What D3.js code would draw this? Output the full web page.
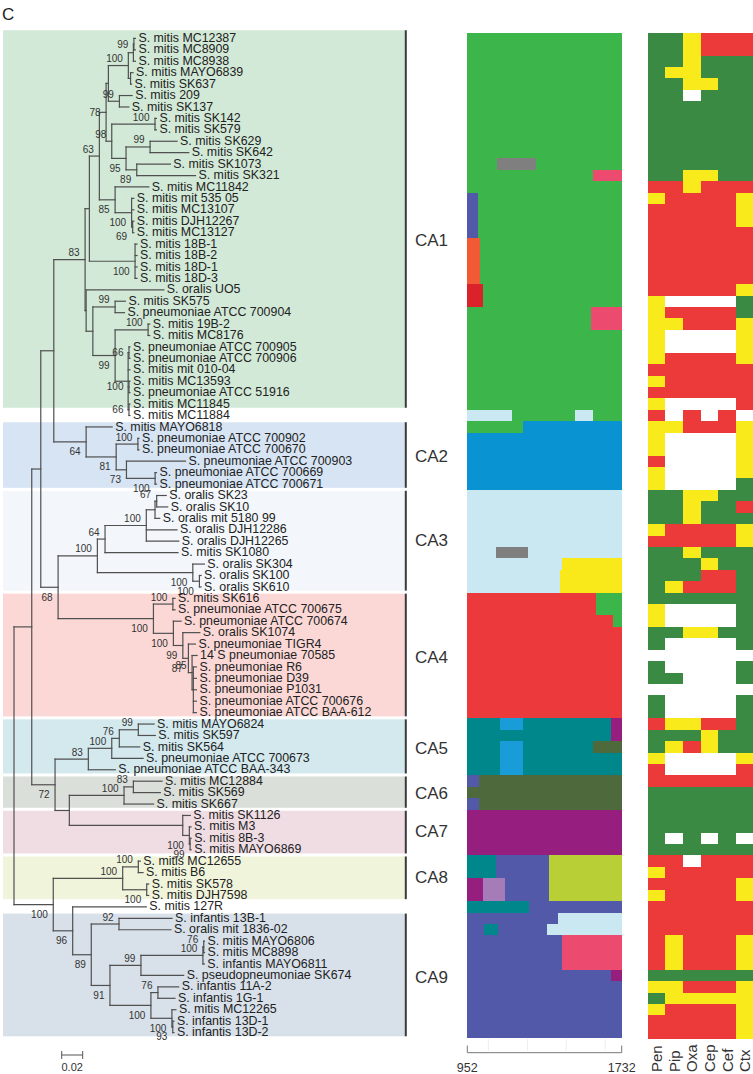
<!DOCTYPE html>
<html><head><meta charset="utf-8">
<script src="https://cdn.jsdelivr.net/npm/d3@7"></script>
<style>
body{margin:0;background:#fff}
svg{display:block;font-family:"Liberation Sans",Arial,Helvetica,sans-serif}
</style>
</head><body>
<svg id="fig" width="753" height="1074"></svg>
<script>
// ---------------- DATA ----------------
const leafNames = [
"S. mitis MC12387","S. mitis MC8909","S. mitis MC8938","S. mitis MAYO6839","S. mitis SK637","S. mitis 209","S. mitis SK137","S. mitis SK142","S. mitis SK579","S. mitis SK629","S. mitis SK642","S. mitis SK1073","S. mitis SK321","S. mitis MC11842","S. mitis mit 535 05","S. mitis MC13107","S. mitis DJH12267","S. mitis MC13127","S. mitis 18B-1","S. mitis 18B-2","S. mitis 18D-1","S. mitis 18D-3","S. oralis UO5","S. mitis SK575","S. pneumoniae ATCC 700904","S. mitis 19B-2","S. mitis MC8176","S. pneumoniae ATCC 700905","S. pneumoniae ATCC 700906","S. mitis mit 010-04","S. mitis MC13593","S. pneumoniae ATCC 51916","S. mitis MC11845","S. mitis MC11884",
"S. mitis MAYO6818","S. pneumoniae ATCC 700902","S. pneumoniae ATCC 700670","S. pneumoniae ATCC 700903","S. pneumoniae ATCC 700669","S. pneumoniae ATCC 700671",
"S. oralis SK23","S. oralis SK10","S. oralis mit 5180 99","S. oralis DJH12286","S. oralis DJH12265","S. mitis SK1080","S. oralis SK304","S. oralis SK100","S. oralis SK610",
"S. mitis SK616","S. pneumoniae ATCC 700675","S. pneumoniae ATCC 700674","S. oralis SK1074","S. pneumoniae TIGR4","14 S pneumoniae 70585","S. pneumoniae R6","S. pneumoniae D39","S. pneumoniae P1031","S. pneumoniae ATCC 700676","S. pneumoniae ATCC BAA-612",
"S. mitis MAYO6824","S. mitis SK597","S. mitis SK564","S. pneumoniae ATCC 700673","S. pneumoniae ATCC BAA-343",
"S. mitis MC12884","S. mitis SK569","S. mitis SK667",
"S. mitis SK1126","S. mitis M3","S. mitis 8B-3","S. mitis MAYO6869",
"S. mitis MC12655","S. mitis B6","S. mitis SK578","S. mitis DJH7598",
"S. mitis 127R",
"S. infantis 13B-1","S. oralis mit 1836-02","S. mitis MAYO6806","S. mitis MC8898","S. infantis MAYO6811","S. pseudopneumoniae SK674","S. infantis 11A-2","S. infantis 1G-1","S. mitis MC12265","S. infantis 13D-1","S. infantis 13D-2"];

// tree: L(leafIndex, branchLength), N(branchLength, "bootstrap"+placement, ...children)
const L = (i, len) => ({leaf: i, len});
const N = (len, sup, ...kids) => ({len, sup, kids});

const topGroup = N(0.0022, "",
  N(0.0190, "100a",
    N(0.0048, "", N(0.0005, "99m", L(0,0.0014), L(1,0.0014)), L(2,0.0019)),
    N(0.0021, "", L(3,0.0024), L(4,0.0010))),
  N(0.0105, "99a", L(5,0.0121), L(6,0.0090)));
const skGroup = N(0.0054, "98a",
  N(0.0412, "100a", L(7,0.0013), L(8,0.0013)),
  N(0.0136, "95b",
    N(0.0229, "99a", L(9,0.0257), L(10,0.0368)),
    N(0.0102, "89b", L(11,0.0320), L(12,0.0559))));
const mcGroup = N(0.0150, "85b", L(13,0.0321),
  N(0.0157, "100b", L(14,0.0021), L(15,0.0021), N(0.0010, "69b", L(16,0.0011), L(17,0.0011))));
const g18 = N(0.0435, "100b", L(18,0.0019), L(19,0.0019), L(20,0.0019), L(21,0.0019));
const pnGroup = N(0.0010, "", L(22,0.0740),
  N(0.0064, "",
    N(0.0212, "99a", L(23,0.0098), L(24,0.0089)),
    N(0.0212, "99b",
      N(0.0314, "100a", L(25,0.0016), L(26,0.0016)),
      N(0.0124, "",
        N(0.0008, "66m", L(27,0.0009), L(28,0.0009)),
        L(29,0.0017),
        N(0.0008, "100m", L(30,0.0009), L(31,0.0009)),
        N(0.0008, "66m", L(32,0.0009), L(33,0.0009))))));
const ca1 = N(0.0298, "83a",
  N(0.0041, "", N(0.0095, "63a", N(0.0064, "78m", topGroup, skGroup), mcGroup), g18),
  pnGroup);
const ca2 = N(0.0308, "64b", L(34,0.0248),
  N(0.0286, "81b",
    N(0.0207, "100a", L(35,0.0010), L(36,0.0010)),
    N(0.0098, "73b", L(37,0.0562), N(0.0273, "100b", L(38,0.0013), L(39,0.0013)))));
const ca3 = N(0.0374, "100a",
  N(0.0073, "64a",
    N(0.0393, "100a",
      N(0.0083, "", N(0.0016, "67a", L(40,0.0091), L(41,0.0105)), L(42,0.0045)),
      L(43,0.0292), L(44,0.0309)),
    L(45,0.0695)),
  N(0.0909, "100b", L(46,0.0110), N(0.0063, "100b", L(47,0.0016), L(48,0.0016))));
const ca4 = N(0.0908, "100b",
  N(0.0185, "100a", L(49,0.0021), L(50,0.0021)),
  N(0.0190, "100b", L(51,0.0073),
    N(0.0090, "99b", L(52,0.0162),
      N(0.0053, "87b", L(53,0.0067),
        N(0.0035, "85a", L(54,0.0048),
          N(0.0012, "", L(55,0.0029), L(56,0.0029), L(57,0.0029), L(58,0.0029), L(59,0.0029)))))));
const ca5 = N(0.0317, "83a",
  N(0.0223, "100a",
    N(0.0072, "76a", N(0.0181, "99a", L(60,0.0150), L(61,0.0162)), L(62,0.0194)),
    L(63,0.0298)),
  L(64,0.0257));
const ca6 = N(0.0521, "100a", N(0.0089, "83a", L(65,0.0273), L(66,0.0257)), L(67,0.0281));
const ca7 = N(0.1080, "", L(68,0.0072),
  N(0.0063, "100b", L(69,0.0016), N(0.0007, "99b", L(70,0.0010), L(71,0.0010))));
const ca8 = N(0.0661, "100a",
  N(0.0149, "100a", L(72,0.0019), L(73,0.0045)),
  N(0.0229, "100b", L(74,0.0019), L(75,0.0019)));
const ca9 = N(0.0177, "89b",
  N(0.0264, "92a", L(77,0.0505), L(78,0.0495)),
  N(0.0178, "91b",
    N(0.0295, "99a",
      N(0.0590, "100a", N(0.0008, "76a", L(79,0.0007), L(80,0.0007)), L(81,0.0014)),
      L(82,0.0407)),
    N(0.0390, "100b",
      N(0.0067, "76a", L(83,0.0197), L(84,0.0162)),
      N(0.0200, "100b", L(85,0.0038), N(0.0008, "93b", L(86,0.0011), L(87,0.0011))))));
const tree = N(0, "",
  N(0.0169, "",
    N(0.0086, "", N(0.0124, "", ca1, ca2), N(0.0165, "68b", ca3, ca4)),
    N(0.0222, "72b", ca5, N(0.0136, "", ca6, ca7))),
  N(0.0374, "100b", ca8, N(0.0185, "96b", L(76,0.0701), ca9)));

const scaleBarValue = 0.02;

// clades (rows of leaves) and the row at which each clade name is written
const cladeNames = ["CA1","CA2","CA3","CA4","CA5","CA6","CA7","CA8","CA9"];
const cladeRows  = [[0,32],[34,39],[40,48],[49,59],[60,64],[65,67],[68,71],[72,75],[77,87]];
const cladeLabelRow = [18.1, 37.0, 44.4, 54.6, 62.6, 66.5, 69.9, 73.9, 82.6];

// mosaic: gene positions 952..1732
const positionDomain = [952, 1732];
const mosaicBase = [[0,33,"CA1"],[34,39,"CA2"],[40,48,"CA3"],[49,59,"CA4"],[60,64,"CA5"],[65,67,"CA6"],[68,71,"CA7"],[72,87,"CA9"]];
const mosaicPatches = [
  [11,11,1103,1299,"grey"],[12,12,1588,1732,"pink"],[14,17,952,1005,"CA9"],[18,21,952,1016,"orange"],
  [22,23,952,1030,"darkred"],[24,25,1575,1732,"pink"],[33,33,952,1179,"CA3"],[33,33,1496,1585,"CA3"],
  [34,34,952,1232,"CA1"],[45,45,1097,1260,"grey"],[46,46,1429,1732,"yellow"],[47,48,1420,1732,"yellow"],
  [49,50,1602,1732,"CA1"],[51,51,1689,1732,"CA1"],[60,60,1117,1232,"blue2"],[62,64,1117,1232,"blue2"],
  [60,61,1676,1732,"CA7"],[62,62,1588,1732,"CA6"],[65,65,952,1013,"CA9"],[67,67,952,1013,"CA9"],
  [72,73,952,1097,"CA5"],[74,75,952,1030,"CA7"],[74,75,1030,1142,"lpurple"],[72,75,1366,1732,"CA8"],
  [76,76,952,1265,"CA5"],[77,77,1412,1732,"CA3"],[78,78,1356,1732,"CA3"],[78,78,1036,1109,"CA5"],
  [79,81,1429,1732,"pink"],[82,82,1676,1732,"CA7"]];
const minorTicks = [1058, 1256, 1452, 1649];

// antibiotic susceptibility: S susceptible, I intermediate, R resistant, - not tested
const antibiotics = ["Pen","Pip","Oxa","Cep","Cef","Ctx"];
const susceptibility = [
"SSIRRR","SSIRRR","SSISSS","SIISSS","SSIISS","SS-SSS","SSSSSS","SSSSSS","SSSSSS","SSSSSS","SSSSSS","SSSSSS",
"SSIISS","RRIRRR","IRRRRI","RRRRRI","RRRRRI","RRRRRR","RRRRRR","RRRRRR","RRRRRR","RRRRRR","RRRRRI",
"I----S","IRRRRS","IIRRRI","I----I","I----I","IRRRRI","RRRRRR","IRRRRR","RRRRRR","I----R","R-R-R-",
"IIRRRI","I----I","I----I","R----I","I----I","I----S",
"SSIISS","SSISSR","SSISSS","IRRRRI","RRRRRI","SSISSS","SSSISS","SSSRRS","SIRRRS",
"SSSSSS","I----S","I----S","SSIISS","S----S","------","S----S","SS---S","------","S----S","S----S",
"RIIRRS","SSSISS","SIRISS","I----I","R----R",
"RRRRRR","SSSSSS","SSSSSS",
"SSSSSS","SSSSSS","S-S-S-","SSSSSS",
"RR-RRR","IRRRRR","RRRRRI","IRRRRI",
"RRRRRR",
"RRRRRR","RRRRRR","RIRRRI","RIRRRI","RIRRRI","SSSSSS","IIRRRI","SIIIII","IRRRRI","RRRRRI","RRRRRI"];

// ---------------- STYLE ----------------
const bandFill = {CA1:"#d2e9d7",CA2:"#d6e4f3",CA3:"#f3f7fb",CA4:"#fbd8d6",CA5:"#d3e9ee",CA6:"#dbdfd9",CA7:"#f0dde4",CA8:"#f0f4db",CA9:"#d8e0e9"};
const mosaicColor = {CA1:"#3cb54a",CA2:"#0a93d3",CA3:"#cae8f2",CA4:"#ec393b",CA5:"#00878c",CA6:"#4e6a3c",CA7:"#951e7f",CA8:"#b8cf36",CA9:"#5159a8",
  grey:"#7f7f7f",pink:"#ec4a6f",orange:"#f15a35",darkred:"#d9222a",yellow:"#f9e81a",blue2:"#1a9cd8",lpurple:"#a57bb8"};
const suscColor = {S:"#3a8a43",I:"#f9ea1b",R:"#ec3a3b","-":"#ffffff"};

// ---------------- LAYOUT ----------------
const svg = d3.select("#fig");
svg.append("rect").attr("width",753).attr("height",1074).attr("fill","#fff");

const nRows = leafNames.length;
const rowY = d3.scaleBand().domain(d3.range(nRows)).range([32.7, 1038.3]);
const rowLin = d3.scaleLinear().domain([0, nRows]).range([32.7, 1038.3]);
const rowC = i => rowY(i) + rowY.bandwidth()/2;
const xTree = d3.scaleLinear().domain([0, 0.1]).range([14, 119]);
const xPos = d3.scaleLinear().domain(positionDomain).range([467.3, 621.7]);
const xAb = d3.scaleBand().domain(antibiotics).range([647.7, 753.7]);

// panel letter
svg.append("text").attr("x",2).attr("y",20).attr("font-size",17).attr("fill","#222").text("C");

// clade bands
const gBand = svg.append("g");
cladeNames.forEach((c, k) => {
  const [a, b] = cladeRows[k];
  const top = rowY(a) + (k === 0 ? -2.5 : 1), bot = rowY(b) + rowY.bandwidth() - 2;
  gBand.append("rect").attr("x",3).attr("y",top).attr("width",402).attr("height",bot-top).attr("fill",bandFill[c]);
  gBand.append("line").attr("x1",405.8).attr("x2",405.8).attr("y1",top).attr("y2",bot)
    .attr("stroke","#3a3a3a").attr("stroke-width",2);
  gBand.append("text").attr("x",415).attr("y",rowLin(cladeLabelRow[k])+6).attr("font-size",17).attr("fill","#333").text(c);
});

// tree layout
function lay(n, d) {
  n.d = d + n.len;
  n.px = xTree(n.d);
  if (n.kids) {
    n.kids.forEach(k => lay(k, n.d));
    n.y = (n.kids[0].y + n.kids[n.kids.length-1].y) / 2;
  } else {
    n.y = rowC(n.leaf);
  }
}
lay(tree, 0);
const gTree = svg.append("g").attr("stroke","#505050").attr("stroke-width",1.2).attr("fill","none").attr("stroke-linecap","square");
const gLab = svg.append("g");
function draw(n) {
  if (!n.kids) return;
  gTree.append("line").attr("x1",n.px).attr("x2",n.px).attr("y1",n.kids[0].y).attr("y2",n.kids[n.kids.length-1].y);
  n.kids.forEach(k => {
    gTree.append("line").attr("x1",n.px).attr("x2",k.px).attr("y1",k.y).attr("y2",k.y);
    draw(k);
  });
  if (n.sup) {
    const val = n.sup.replace(/[abm]$/, ""), pl = n.sup.slice(-1);
    const yy = pl === "a" ? n.y - 3.5 : pl === "b" ? n.y + 13.5 : n.y + 3.5;
    gLab.append("text").attr("x", n.px - 5.5).attr("y", yy).attr("text-anchor","end")
      .attr("font-size",10).attr("fill","#333").text(val);
  }
}
draw(tree);
// leaf labels
(function leaves(n){
  if (n.kids) { n.kids.forEach(leaves); return; }
  gLab.append("text").attr("x", n.px + 3).attr("y", n.y + 3.6).attr("font-size",12.4).attr("fill","#222")
    .text(leafNames[n.leaf]);
})(tree);

// scale bar
const sb0 = xTree(0) + 47.7, sb1 = sb0 + (xTree(scaleBarValue) - xTree(0));
const gSb = svg.append("g").attr("stroke","#555").attr("stroke-width",1);
gSb.append("line").attr("x1",sb0).attr("x2",sb1).attr("y1",1055).attr("y2",1055);
gSb.append("line").attr("x1",sb0).attr("x2",sb0).attr("y1",1051).attr("y2",1059);
gSb.append("line").attr("x1",sb1).attr("x2",sb1).attr("y1",1051).attr("y2",1059);
svg.append("text").attr("x",(sb0+sb1)/2).attr("y",1071).attr("text-anchor","middle").attr("font-size",11).attr("fill","#333").text(scaleBarValue);

// mosaic
const gM = svg.append("g").attr("shape-rendering","crispEdges");
mosaicBase.forEach(([a,b,c]) => {
  gM.append("rect").attr("x",xPos(positionDomain[0])).attr("width",xPos(positionDomain[1])-xPos(positionDomain[0]))
    .attr("y",rowY(a)).attr("height",rowY(b)+rowY.bandwidth()-rowY(a)).attr("fill",mosaicColor[c]);
});
mosaicPatches.forEach(([a,b,s,e,c]) => {
  gM.append("rect").attr("x",xPos(s)).attr("width",xPos(e)-xPos(s))
    .attr("y",rowY(a)).attr("height",rowY(b)+rowY.bandwidth()-rowY(a)).attr("fill",mosaicColor[c]);
});
// axis
const gAx = svg.append("g").attr("stroke","#777").attr("stroke-width",1);
minorTicks.forEach(t => gAx.append("line").attr("x1",xPos(t)).attr("x2",xPos(t)).attr("y1",1039).attr("y2",1051).attr("stroke","#eeeeee"));
gAx.append("line").attr("x1",xPos(positionDomain[0])).attr("x2",xPos(positionDomain[1])).attr("y1",1052.7).attr("y2",1052.7);
positionDomain.forEach(t => {
  gAx.append("line").attr("x1",xPos(t)).attr("x2",xPos(t)).attr("y1",1045.5).attr("y2",1052.7);
  svg.append("text").attr("x",xPos(t)).attr("y",1072).attr("text-anchor","middle").attr("font-size",12.5).attr("fill","#333").text(t);
});

// heatmap
const gH = svg.append("g").attr("shape-rendering","crispEdges");
susceptibility.forEach((row, i) => {
  antibiotics.forEach((ab, j) => {
    gH.append("rect").attr("x",xAb(ab)).attr("y",rowY(i)).attr("width",xAb.bandwidth()+0.4).attr("height",rowY.bandwidth()+0.4)
      .attr("fill",suscColor[row[j]]);
  });
});
antibiotics.forEach(ab => {
  svg.append("text").attr("transform",`translate(${xAb(ab)+xAb.bandwidth()/2+5.5},1072) rotate(-90)`)
    .attr("font-size",15).attr("fill","#333").text(ab);
});
</script>
</body></html>
